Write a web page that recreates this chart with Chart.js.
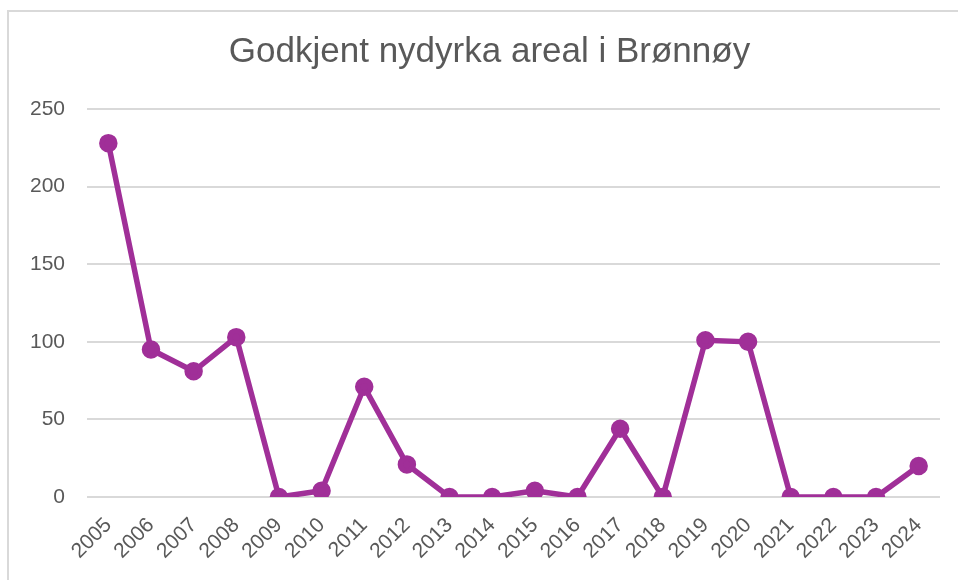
<!DOCTYPE html>
<html lang="no">
<head>
  <meta charset="UTF-8">
  <title>Godkjent nydyrka areal i Brønnøy</title>
  <script src="https://cdn.jsdelivr.net/npm/chart.js@4.4.1/dist/chart.umd.min.js"></script>
  <style>
    html, body { margin: 0; padding: 0; background: #fff; overflow: hidden; }
    #frame {
      position: absolute; left: 7px; top: 10px; width: 960px; height: 580px;
      border-left: 2px solid #d9d9d9; border-top: 2px solid #d9d9d9;
    }
    #wrap { position: absolute; left: 0; top: 0; width: 949px; height: 568px; }
  </style>
</head>
<body>
  <div id="frame">
    <div id="wrap"><canvas id="chart"></canvas></div>
  </div>
  <script>
    // Years and approved new cultivated area
    const years = ['2005', '2006', '2007', '2008', '2009', '2010', '2011', '2012', '2013', '2014',
                   '2015', '2016', '2017', '2018', '2019', '2020', '2021', '2022', '2023', '2024'];
    const areal = [228, 95, 81, 103, 0, 4, 71, 21, 0, 0,
                   4, 0, 44, 0, 101, 100, 0, 0, 0, 20];
    const yTicks = [0, 50, 100, 150, 200, 250];

    // the title in the original sits centred over the whole frame, not the plot
    const shiftTitle = {
      id: 'shiftTitle',
      afterLayout(chart) {
        if (chart.titleBlock) chart.titleBlock.left += 30;
      }
    };

    const ctx = document.getElementById('chart').getContext('2d');
    new Chart(ctx, {
      type: 'line',
      data: {
        labels: years,
        datasets: [{
          label: 'Areal',
          data: areal,
          borderColor: '#a02f98',
          backgroundColor: '#a02f98',
          borderWidth: 5.5,
          pointRadius: 6.5,
          pointHoverRadius: 6.5,
          tension: 0,
          fill: false
        }]
      },
      options: {
        responsive: true,
        maintainAspectRatio: false,
        animation: false,
        layout: { padding: { left: 0, right: 18, top: 0, bottom: 0 } },
        plugins: {
          legend: { display: false },
          tooltip: { enabled: false },
          title: {
            display: true,
            text: 'Godkjent nydyrka areal i Brønnøy',
            color: '#595959',
            font: { family: 'Liberation Sans', size: 35, weight: 'normal', lineHeight: 1.2 },
            padding: { top: 19, bottom: 36 }
          }
        },
        scales: {
          x: {
            offset: true,
            grid: { display: false, drawTicks: false },
            border: { display: false },
            afterFit: axis => { axis.height = 83; },
            ticks: {
              color: '#595959',
              font: { family: 'Liberation Sans', size: 21 },
              minRotation: 45,
              maxRotation: 45,
              autoSkip: false,
              padding: 16
            }
          },
          y: {
            min: 0,
            max: 250,
            afterBuildTicks: axis => { axis.ticks = yTicks.map(v => ({ value: v })); },
            afterFit: axis => { axis.width = 78; },
            grid: { color: '#d9d9d9', lineWidth: 2, drawTicks: false },
            border: { display: false },
            ticks: {
              color: '#595959',
              font: { family: 'Liberation Sans', size: 21 },
              padding: 22
            }
          }
        }
      },
      plugins: [shiftTitle]
    });
  </script>
</body>
</html>
